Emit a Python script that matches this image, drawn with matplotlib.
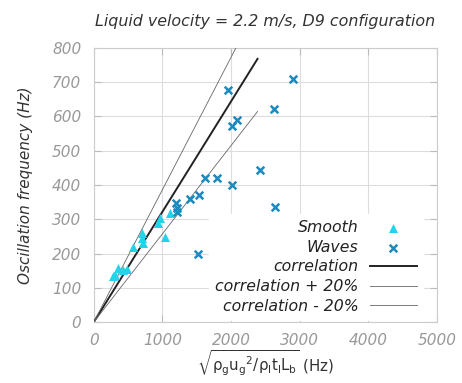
import matplotlib
matplotlib.use('Agg')
import matplotlib.pyplot as plt
import numpy as np

plt.rcParams['mathtext.default'] = 'regular'

# smooth regime (triangles)
smooth_x = [276, 305, 349, 422, 480, 567, 698, 698, 712, 930, 959, 1032, 1105]
smooth_y = [134, 137, 158, 152, 155, 219, 260, 245, 231, 289, 304, 248, 318]

# waves regime (crosses)
waves_x = [1192, 1206, 1206, 1395, 1512, 1526, 1613, 1802, 1948, 2006, 2020, 2020, 2093, 2420, 2625, 2640, 2907]
waves_y = [347, 333, 321, 359, 199, 371, 420, 420, 677, 572, 400, 269, 590, 443, 623, 335, 709]

# correlation
corr_slope = 0.322
corr_x = [0, 2385]

tick_grey = '#999999'

fig = plt.figure(figsize=(4.62, 3.83), dpi=100)
ax = fig.add_axes([0.203, 0.159, 0.743, 0.716])

cx = np.array(corr_x)
ax.plot(cx, corr_slope * cx, color='#222222', lw=1.4, label='correlation', zorder=3)
ax.plot(cx, 1.2 * corr_slope * cx, color='#666666', lw=0.6, label='correlation + 20%', zorder=3)
ax.plot(cx, 0.8 * corr_slope * cx, color='#666666', lw=0.6, label='correlation - 20%', zorder=3)
ax.scatter(smooth_x, smooth_y, marker='^', s=42, color='#22d3ea', linewidths=0,
           label='Smooth', zorder=4)
ax.scatter(waves_x, waves_y, marker='x', s=30, color='#1b8bbf', linewidths=1.8,
           label='Waves', zorder=4)

ax.set_xlim(0, 5000)
ax.set_ylim(0, 800)
ax.set_xticks(range(0, 5001, 1000))
ax.set_yticks(range(0, 801, 100))
ax.grid(True, color='#dddddd', lw=0.8)
ax.set_axisbelow(True)
for sp in ax.spines.values():
    sp.set_color('#cccccc')
ax.tick_params(direction='in', colors='#bbbbbb', length=5, top=True, right=True,
               labelcolor=tick_grey, labelsize=11)
ax.tick_params(axis='y', pad=9)
ax.tick_params(axis='x', pad=8)
for lab in ax.get_xticklabels() + ax.get_yticklabels():
    lab.set_fontstyle('italic')

ax.set_title('Liquid velocity = 2.2 m/s, D9 configuration', fontsize=11.4,
             style='italic', color='#333333', pad=16)
ax.set_ylabel('Oscillation frequency (Hz)', fontsize=11, style='italic', color='#333333',
              labelpad=14)
ax.set_xlabel(r'$\sqrt{\rho_g u_g{}^2/\rho_l t_l L_b}$ (Hz)', fontsize=10.8, color='#333333',
              labelpad=0)

handles, labels = ax.get_legend_handles_labels()
order = [3, 4, 0, 1, 2]
leg = ax.legend([handles[i] for i in order], [labels[i] for i in order],
                loc='lower right', bbox_to_anchor=(0.959, 0.007), borderaxespad=0,
                markerfirst=False, frameon=True, framealpha=1,
                edgecolor='white', fancybox=False, prop={'style': 'italic', 'size': 11.3},
                handlelength=3.0, labelspacing=0.3, handletextpad=0.7)
for t in leg.get_texts():
    t.set_color('#222222')

fig.savefig('out.png', dpi=100)
